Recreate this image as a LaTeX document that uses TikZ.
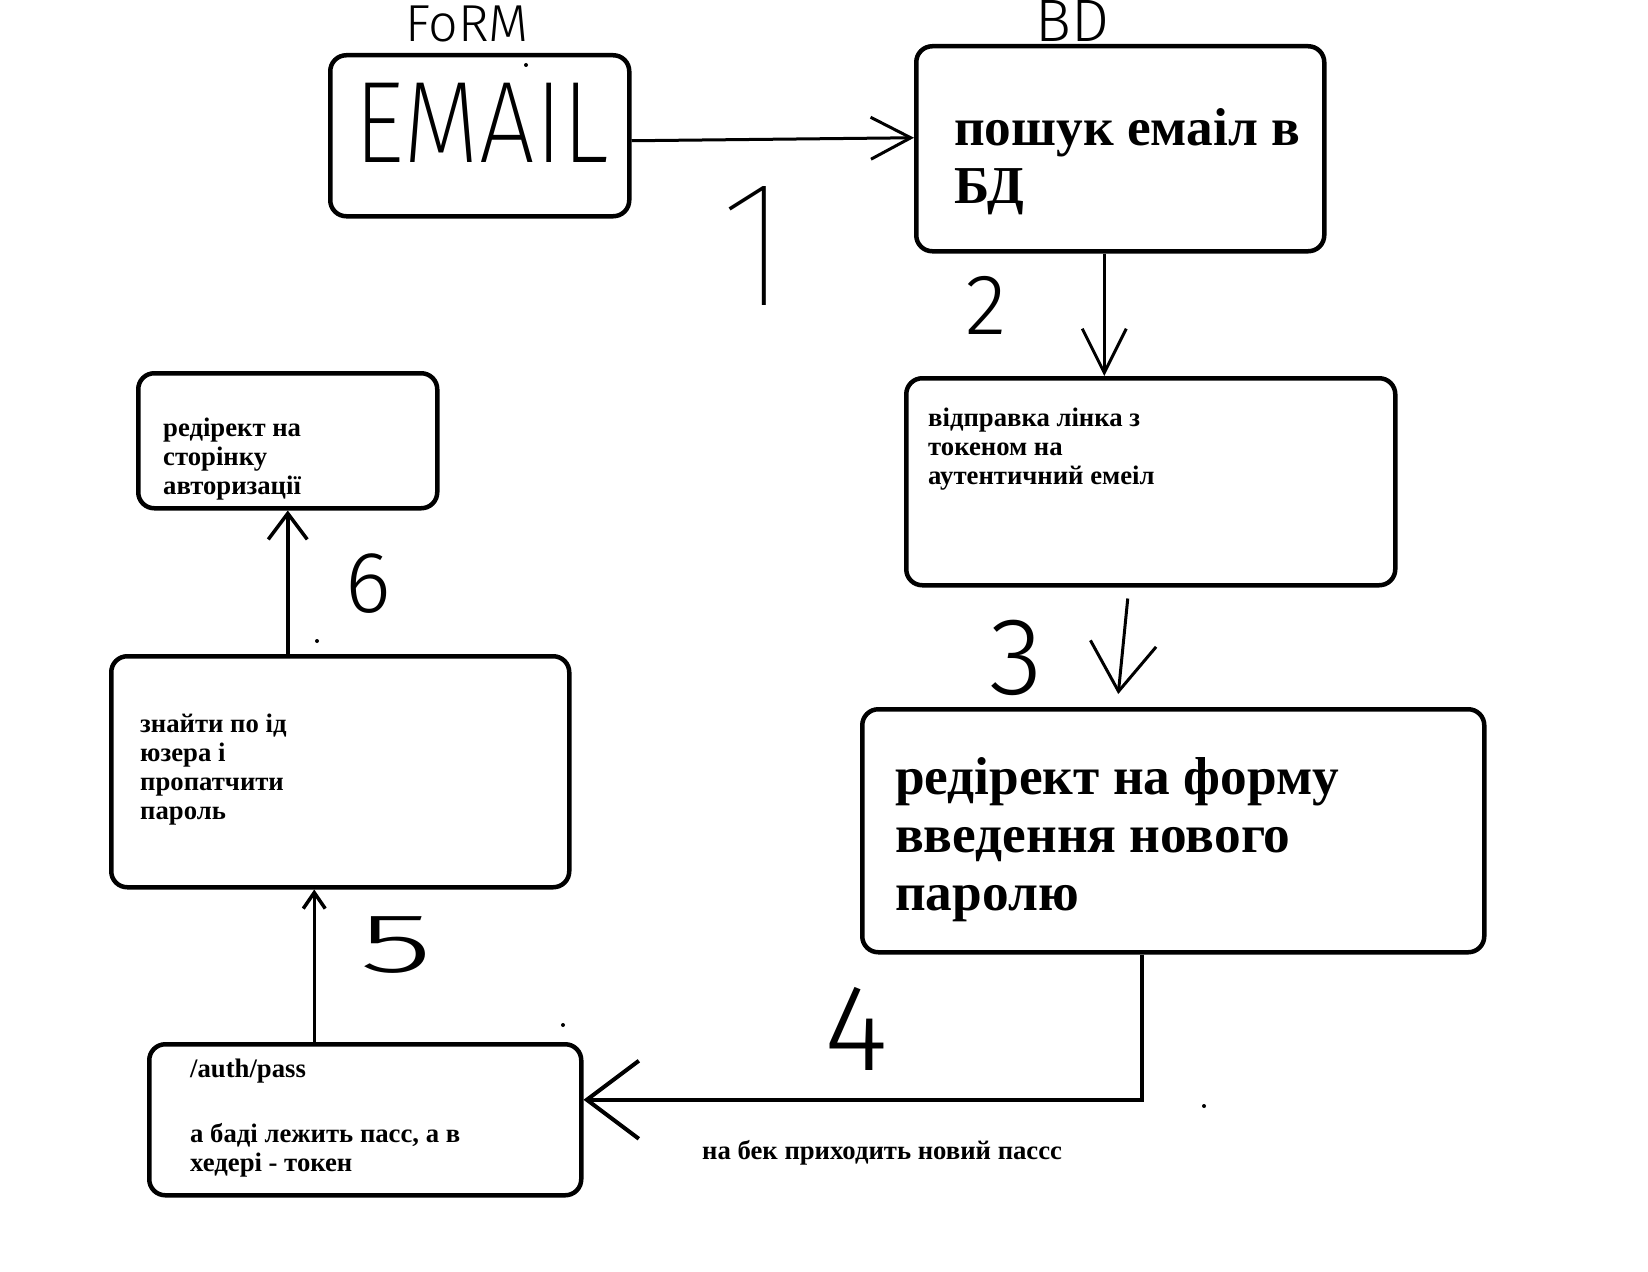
\documentclass[tikz,border=0pt]{standalone}
\usepackage{fontspec}
\setmainfont{Liberation Serif}
\IfFontExistsTF{Fira Sans Thin}{\newfontfamily\handfnt{Fira Sans Thin}}{%
 \IfFontExistsTF{Fira Sans Light}{\newfontfamily\handfnt{Fira Sans Light}}{%
   \newfontfamily\handfnt{Fira Sans}}}
\IfFontExistsTF{Fira Sans Light}{\newfontfamily\handlt{Fira Sans Light}}{%
   \newfontfamily\handlt{Fira Sans}}
\IfFontExistsTF{Fira Sans ExtraLight}{\newfontfamily\handxl{Fira Sans ExtraLight}}{%
   \newfontfamily\handxl{Fira Sans}}
\usetikzlibrary{arrows.meta,positioning,calc}
\newcommand\handsz[1]{\handfnt\fontsize{#1}{#1}\selectfont}
\newcommand\handltsz[1]{\handlt\fontsize{#1}{#1}\selectfont}

\begin{document}
\begin{tikzpicture}[x=1pt,y=-1pt,
  box/.style={draw,rounded corners=16pt,line width=4.5pt,anchor=north west,inner sep=0pt},
  txt/.style={font=\bfseries\fontsize{26.7}{29}\selectfont,align=left,anchor=north west,inner sep=0pt},
  bigtxt/.style={font=\bfseries\fontsize{53.3}{58}\selectfont,align=left,anchor=north west,inner sep=0pt},
  hand/.style={anchor=base,inner sep=0pt},
  conn/.style={line width=3pt}]
\useasboundingbox (0,0) rectangle (1648,1271);
% boxes
\node[box,minimum width=299pt,minimum height=161pt] (form) at (328,53) {};
\node[box,minimum width=408pt,minimum height=205pt] (bd) at (914,44) {};
\node[box,minimum width=489pt,minimum height=207pt] (link) at (904,376) {};
\node[box,minimum width=622pt,minimum height=243pt] (newpass) at (860,707) {};
\node[box,minimum width=299pt,minimum height=135pt] (authpg) at (136,371) {};
\node[box,minimum width=458pt,minimum height=231pt] (patch) at (109,654) {};
\node[box,minimum width=432pt,minimum height=151pt] (authpass) at (147,1042) {};
% texts
\node[bigtxt] (bdtxt) at (954,108) {пошук емаіл в\\БД};
\node[txt] (linktxt) at (928,408) {відправка лінка з\\токеном на\\аутентичний емеіл};
\node[bigtxt] (nptxt) at (895,757) {редірект на форму\\введення нового\\паролю};
\node[txt] (authpgtxt) at (163,418) {редірект на\\сторінку\\авторизації};
\node[txt] (patchtxt) at (140,714) {знайти по ід\\юзера і\\пропатчити\\пароль};
\node[txt] (authpasstxt) at (190,1059) {/auth/pass\\[36pt]а баді лежить пасс, а в\\хедері - токен};
\node[txt,anchor=base west] (bektxt) at (702,1159) {на бек приходить новий пассс};
% hand written
\node[anchor=base west,inner sep=0pt] (emailtxt) at (354,162) {\handxl\fontsize{116}{116}\selectfont\scalebox{0.85}[1]{EMAIL}};
\node[anchor=base west,inner sep=0pt] (formlbl) at (405,42) {\handltsz{52}FoRM};
\node[anchor=base west,inner sep=0pt] (bdlbl) at (1035,42) {\handltsz{60}BD};
\node[hand,font=\handsz{180}] (n1) at (755,305) {1};
\foreach \d/\x/\y/\s in {2/986/334/86,3/1016/694/110,4/856/1070/123,6/368/612/87}
  \node[hand,font=\handltsz{\s}] (n\d) at (\x,\y) {\d};
\node[hand,font=\handltsz{84}] (n5) at (396,972) {\scalebox{1.8}[1]{5}};
% connectors
\draw[conn,-{Straight Barb[length=40pt,width=42pt]}] ([yshift=-5pt]form.east) -- ([yshift=11pt]bd.west);
\draw[conn,-{Straight Barb[length=44pt,width=44pt]}] ([xshift=-16pt]bd.south) -- ([xshift=-16pt]bd.south |- link.north);
\draw[conn,-{Straight Barb[length=48pt,width=66pt]}] ([xshift=-23pt,yshift=-11pt]link.south) -- ([xshift=-55pt,yshift=13pt]newpass.north);
\draw[conn,line width=4pt,-{Straight Barb[length=52pt,width=78pt]}] ([xshift=-31pt]newpass.south) |- ([yshift=20pt]authpass.east);
\draw[conn,line width=3.5pt,-{Straight Barb[length=16pt,width=22pt]}] ([xshift=-51pt]authpass.north) -- ([xshift=-51pt]authpass.north |- patch.south);
\draw[conn,line width=3.5pt,-{Straight Barb[length=26pt,width=39pt]}] (patch.north -| authpg.south) -- (authpg.south);
% stray dots
\foreach \x/\y in {526/65,317/641,563/1025,1204/1106}
  \fill (\x,\y) circle (2pt);
\end{tikzpicture}
\end{document}
